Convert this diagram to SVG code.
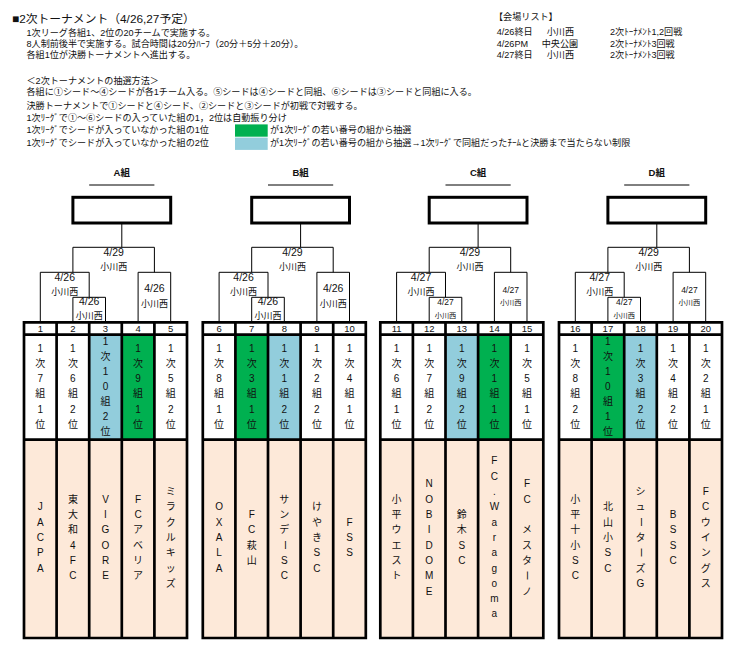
<svg xmlns="http://www.w3.org/2000/svg" width="737" height="650" viewBox="0 0 737 650">
<style>
.t{font-family:"Liberation Sans","Noto Sans CJK JP",sans-serif;fill:#111}
.h11{font-size:11.8px}
.b9{font-size:9.1px}
.c{text-anchor:middle}
.ttl{font-size:9.5px;font-weight:bold}
.dt{font-size:10.5px}
.vn{font-size:9px}
.dts{font-size:8.5px}
.vns{font-size:7.2px}
.num{font-size:9.5px}
.sd{font-size:10px}
.nm{font-size:10px}
.ln{stroke:#000;stroke-width:1;fill:none}
.ul{stroke:#000;stroke-width:1}
.box{fill:#fff;stroke:#000;stroke-width:3}
.grid{stroke:#000;stroke-width:2.7;fill:none}
.hd{fill:#fff}
.wh{fill:#fff}
.gr{fill:#00B050}
.bl{fill:#92CDDC}
.pk{fill:#FDE9D9}
</style>
<rect width="737" height="650" fill="#fff"/>

<g id="header-text">
<text class="t h11" x="12" y="22.5">■2次トーナメント（4/26,27予定）</text>
<text class="t b9" x="26.5" y="36">1次リーグ各組1、2位の20チームで実施する。</text>
<text class="t b9" x="26.5" y="46.7">8人制前後半で実施する。試合時間は20分ﾊｰﾌ（20分＋5分＋20分）。</text>
<text class="t b9" x="26.5" y="57.7">各組1位が決勝トーナメントへ進出する。</text>
<text class="t b9" x="26.5" y="84">＜2次トーナメントの抽選方法＞</text>
<text class="t b9" x="26.5" y="95">各組に①シード～④シードが各1チーム入る。⑤シードは④シードと同組、⑥シードは③シードと同組に入る。</text>
<text class="t b9" x="26.5" y="109">決勝トーナメントで①シードと④シード、②シードと③シードが初戦で対戦する。</text>
<text class="t b9" x="26.5" y="121.4">1次ﾘｰｸﾞで①～⑥シードの入っていた組の1，2位は自動振り分け</text>
<text class="t b9" x="26.5" y="133.4">1次ﾘｰｸﾞでシードが入っていなかった組の1位</text>
<text class="t b9" x="26.5" y="146">1次ﾘｰｸﾞでシードが入っていなかった組の2位</text>
<rect class="gr" x="235" y="124.4" width="32.7" height="12.3"/>
<rect class="bl" x="235" y="137.6" width="32.7" height="12.3"/>
<text class="t b9" x="270" y="133.4">が1次ﾘｰｸﾞの若い番号の組から抽選</text>
<text class="t b9" x="270" y="146">が1次ﾘｰｸﾞの若い番号の組から抽選→1次ﾘｰｸﾞで同組だったﾁｰﾑと決勝まで当たらない制限</text>
</g>

<g id="venue-list">
<text class="t b9" x="494" y="20">【会場リスト】</text>
<text class="t b9" x="496.7" y="35">4/26終日　<tspan x="546.7">小川西</tspan></text>
<text class="t b9" x="496.7" y="46.7">4/26PM　<tspan x="541.7">中央公園</tspan></text>
<text class="t b9" x="496.7" y="57.7">4/27終日　<tspan x="546.7">小川西</tspan></text>
<text class="t b9" x="610" y="35">2次ﾄｰﾅﾒﾝﾄ1,2回戦</text>
<text class="t b9" x="610" y="46.7">2次ﾄｰﾅﾒﾝﾄ3回戦</text>
<text class="t b9" x="610" y="57.7">2次ﾄｰﾅﾒﾝﾄ3回戦</text>
</g>

<g id="connectors">
<g transform="translate(24,0)">
<path class="ln" d="M97.8 223V247.3M48.9 247.3H130.4M48.9 247.3V272.3M130.4 247.3V272.3M16.3 272.3H65.2M16.3 272.3V322.3M65.2 272.3V297.3M48.9 297.3H81.5M48.9 297.3V322.3M81.5 297.3V322.3M114.1 272.3H146.7M114.1 272.3V322.3M146.7 272.3V322.3"/>
<text class="t dt c" x="89.65" y="255.5">4/29</text><text class="t vn c" x="89.65" y="270.1">小川西</text>
<text class="t dt c" x="40.75" y="281.1">4/26</text><text class="t vn c" x="40.75" y="295.1">小川西</text>
<text class="t dt c" x="65.2" y="304.8">4/26</text><text class="t vn c" x="65.2" y="319.4">小川西</text>
<text class="t dt c" x="130.4" y="292.1">4/26</text><text class="t vn c" x="130.4" y="306.7">小川西</text>
</g>
<g transform="translate(202.8,0)">
<path class="ln" d="M97.8 223V247.3M48.9 247.3H130.4M48.9 247.3V272.3M130.4 247.3V272.3M16.3 272.3H65.2M16.3 272.3V322.3M65.2 272.3V297.3M48.9 297.3H81.5M48.9 297.3V322.3M81.5 297.3V322.3M114.1 272.3H146.7M114.1 272.3V322.3M146.7 272.3V322.3"/>
<text class="t dt c" x="89.65" y="255.5">4/29</text><text class="t vn c" x="89.65" y="270.1">小川西</text>
<text class="t dt c" x="40.75" y="281.1">4/26</text><text class="t vn c" x="40.75" y="295.1">小川西</text>
<text class="t dt c" x="65.2" y="304.8">4/26</text><text class="t vn c" x="65.2" y="319.4">小川西</text>
<text class="t dt c" x="130.4" y="292.1">4/26</text><text class="t vn c" x="130.4" y="306.7">小川西</text>
</g>
<g transform="translate(380.3,0)">
<path class="ln" d="M97.8 223V247.3M48.9 247.3H130.4M48.9 247.3V272.3M130.4 247.3V272.3M16.3 272.3H65.2M16.3 272.3V322.3M65.2 272.3V297.3M48.9 297.3H81.5M48.9 297.3V322.3M81.5 297.3V322.3M114.1 272.3H146.7M114.1 272.3V322.3M146.7 272.3V322.3"/>
<text class="t dt c" x="89.65" y="255.5">4/29</text><text class="t vn c" x="89.65" y="270.1">小川西</text>
<text class="t dt c" x="40.75" y="281.1">4/27</text><text class="t vn c" x="40.75" y="295.1">小川西</text>
<text class="t dts c" x="65.2" y="305.4">4/27</text><text class="t vns c" x="65.2" y="317.7">小川西</text>
<text class="t dts c" x="130.4" y="293.1">4/27</text><text class="t vns c" x="130.4" y="305">小川西</text>
</g>
<g transform="translate(559,0)">
<path class="ln" d="M97.8 223V247.3M48.9 247.3H130.4M48.9 247.3V272.3M130.4 247.3V272.3M16.3 272.3H65.2M16.3 272.3V322.3M65.2 272.3V297.3M48.9 297.3H81.5M48.9 297.3V322.3M81.5 297.3V322.3M114.1 272.3H146.7M114.1 272.3V322.3M146.7 272.3V322.3"/>
<text class="t dt c" x="89.65" y="255.5">4/29</text><text class="t vn c" x="89.65" y="270.1">小川西</text>
<text class="t dt c" x="40.75" y="281.1">4/27</text><text class="t vn c" x="40.75" y="295.1">小川西</text>
<text class="t dts c" x="65.2" y="305.4">4/27</text><text class="t vns c" x="65.2" y="317.7">小川西</text>
<text class="t dts c" x="130.4" y="293.1">4/27</text><text class="t vns c" x="130.4" y="305">小川西</text>
</g>
</g>

<g id="group-A" transform="translate(24,0)">
<text class="t ttl c" x="97.8" y="176">A組</text>
<line class="ul" x1="65.2" y1="185" x2="130.4" y2="185"/>
<rect class="box" x="48.9" y="197.3" width="97.8" height="25.7"/>
<rect class="hd" x="0" y="322.3" width="163" height="12.4"/>
<rect class="wh" x="0" y="334.7" width="163" height="105"/>
<rect class="bl" x="65.2" y="334.7" width="32.6" height="105"/>
<rect class="gr" x="97.8" y="334.7" width="32.6" height="105"/>
<rect class="pk" x="0" y="439.7" width="163" height="198.3"/>
<path class="grid" d="M0 322.3H163V638H0ZM0 334.7H163M0 439.7H163M32.6 322.3V638M65.2 322.3V638M97.8 322.3V638M130.4 322.3V638"/>
<text class="t num c" x="16.3" y="332.2">1</text><text class="t num c" x="48.9" y="332.2">2</text><text class="t num c" x="81.5" y="332.2">3</text><text class="t num c" x="114.1" y="332.2">4</text><text class="t num c" x="146.7" y="332.2">5</text>
<text class="t sd c" x="16.3 16.3 16.3 16.3 16.3 16.3" y="351.7 366.9 382.1 397.3 412.5 427.7">1次7組1位</text>
<text class="t sd c" x="48.9 48.9 48.9 48.9 48.9 48.9" y="351.7 366.9 382.1 397.3 412.5 427.7">1次6組2位</text>
<text class="t sd c" x="81.5 81.5 81.5 81.5 81.5 81.5 81.5" y="344.7 359.7 374.7 389.7 404.7 419.7 434.7">1次10組2位</text>
<text class="t sd c" x="114.1 114.1 114.1 114.1 114.1 114.1" y="351.7 366.9 382.1 397.3 412.5 427.7">1次9組1位</text>
<text class="t sd c" x="146.7 146.7 146.7 146.7 146.7 146.7" y="351.7 366.9 382.1 397.3 412.5 427.7">1次5組2位</text>
<text class="t nm c" x="16.3 16.3 16.3 16.3 16.3" y="510.3 525.6 540.9 556.2 571.5">JACPA</text>
<text class="t nm c" x="48.9 48.9 48.9 48.9 48.9 48.9" y="502.7 518 533.3 548.6 563.9 579.2">東大和4FC</text>
<text class="t nm c" x="81.5 81.5 81.5 81.5 81.5 81.5" y="502.7 518 533.3 548.6 563.9 579.2">VIGORE</text>
<text class="t nm c" x="114.1 114.1 114.1 114.1 114.1 114.1" y="502.7 518 533.3 548.6 563.9 579.2">FCアベリア</text>
<text class="t nm c" x="146.7 146.7 146.7 146.7 146.7 146.7 146.7" y="495 510.3 525.6 540.9 556.2 571.5 586.8">ミラクルキッズ</text>
</g>

<g id="group-B" transform="translate(202.8,0)">
<text class="t ttl c" x="97.8" y="176">B組</text>
<line class="ul" x1="65.2" y1="185" x2="130.4" y2="185"/>
<rect class="box" x="48.9" y="197.3" width="97.8" height="25.7"/>
<rect class="hd" x="0" y="322.3" width="163" height="12.4"/>
<rect class="wh" x="0" y="334.7" width="163" height="105"/>
<rect class="gr" x="32.6" y="334.7" width="32.6" height="105"/>
<rect class="bl" x="65.2" y="334.7" width="32.6" height="105"/>
<rect class="pk" x="0" y="439.7" width="163" height="198.3"/>
<path class="grid" d="M0 322.3H163V638H0ZM0 334.7H163M0 439.7H163M32.6 322.3V638M65.2 322.3V638M97.8 322.3V638M130.4 322.3V638"/>
<text class="t num c" x="16.3" y="332.2">6</text><text class="t num c" x="48.9" y="332.2">7</text><text class="t num c" x="81.5" y="332.2">8</text><text class="t num c" x="114.1" y="332.2">9</text><text class="t num c" x="146.7" y="332.2">10</text>
<text class="t sd c" x="16.3 16.3 16.3 16.3 16.3 16.3" y="351.7 366.9 382.1 397.3 412.5 427.7">1次8組1位</text>
<text class="t sd c" x="48.9 48.9 48.9 48.9 48.9 48.9" y="351.7 366.9 382.1 397.3 412.5 427.7">1次3組1位</text>
<text class="t sd c" x="81.5 81.5 81.5 81.5 81.5 81.5" y="351.7 366.9 382.1 397.3 412.5 427.7">1次1組2位</text>
<text class="t sd c" x="114.1 114.1 114.1 114.1 114.1 114.1" y="351.7 366.9 382.1 397.3 412.5 427.7">1次2組2位</text>
<text class="t sd c" x="146.7 146.7 146.7 146.7 146.7 146.7" y="351.7 366.9 382.1 397.3 412.5 427.7">1次4組1位</text>
<text class="t nm c" x="16.3 16.3 16.3 16.3 16.3" y="510.3 525.6 540.9 556.2 571.5">OXALA</text>
<text class="t nm c" x="48.9 48.9 48.9 48.9" y="518 533.3 548.6 563.9">FC萩山</text>
<text class="t nm c" x="81.5 81.5 81.5 82.7 81.5 81.5" y="502.7 518 533.3 539.9 563.9 579.2" rotate="0 0 0 90 0 0">サンデーSC</text>
<text class="t nm c" x="114.1 114.1 114.1 114.1 114.1" y="510.3 525.6 540.9 556.2 571.5">けやきSC</text>
<text class="t nm c" x="146.7 146.7 146.7" y="525.6 540.9 556.2">FSS</text>
</g>

<g id="group-C" transform="translate(380.3,0)">
<text class="t ttl c" x="97.8" y="176">C組</text>
<line class="ul" x1="65.2" y1="185" x2="130.4" y2="185"/>
<rect class="box" x="48.9" y="197.3" width="97.8" height="25.7"/>
<rect class="hd" x="0" y="322.3" width="163" height="12.4"/>
<rect class="wh" x="0" y="334.7" width="163" height="105"/>
<rect class="bl" x="65.2" y="334.7" width="32.6" height="105"/>
<rect class="gr" x="97.8" y="334.7" width="32.6" height="105"/>
<rect class="pk" x="0" y="439.7" width="163" height="198.3"/>
<path class="grid" d="M0 322.3H163V638H0ZM0 334.7H163M0 439.7H163M32.6 322.3V638M65.2 322.3V638M97.8 322.3V638M130.4 322.3V638"/>
<text class="t num c" x="16.3" y="332.2">11</text><text class="t num c" x="48.9" y="332.2">12</text><text class="t num c" x="81.5" y="332.2">13</text><text class="t num c" x="114.1" y="332.2">14</text><text class="t num c" x="146.7" y="332.2">15</text>
<text class="t sd c" x="16.3 16.3 16.3 16.3 16.3 16.3" y="351.7 366.9 382.1 397.3 412.5 427.7">1次6組1位</text>
<text class="t sd c" x="48.9 48.9 48.9 48.9 48.9 48.9" y="351.7 366.9 382.1 397.3 412.5 427.7">1次7組2位</text>
<text class="t sd c" x="81.5 81.5 81.5 81.5 81.5 81.5" y="351.7 366.9 382.1 397.3 412.5 427.7">1次9組2位</text>
<text class="t sd c" x="114.1 114.1 114.1 114.1 114.1 114.1" y="351.7 366.9 382.1 397.3 412.5 427.7">1次1組1位</text>
<text class="t sd c" x="146.7 146.7 146.7 146.7 146.7 146.7" y="351.7 366.9 382.1 397.3 412.5 427.7">1次5組1位</text>
<text class="t nm c" x="16.3 16.3 16.3 16.3 16.3 16.3" y="502.7 518 533.3 548.6 563.9 579.2">小平ウエスト</text>
<text class="t nm c" x="48.9 48.9 48.9 48.9 48.9 48.9 48.9 48.9" y="487.4 502.7 518 533.3 548.6 563.9 579.2 594.5">NOBIDOME</text>
<text class="t nm c" x="81.5 81.5 81.5 81.5" y="518 533.3 548.6 563.9">鈴木SC</text>
<text class="t nm c" x="114.1 114.1 114.1 114.1 114.1 114.1 114.1 114.1 114.1 114.1 114.1" y="464.4 479.7 495 510.3 525.6 540.9 556.2 571.5 586.8 602.1 617.4">FC.Waragoma</text>
<text class="t nm c" x="146.7 146.7 146.7 146.7 146.7 146.7 147.9 146.7" y="487.4 502.7 518 533.3 548.6 563.9 570.5 594.5" rotate="0 0 0 0 0 0 90 0">FC　メスターノ</text>
</g>

<g id="group-D" transform="translate(559,0)">
<text class="t ttl c" x="97.8" y="176">D組</text>
<line class="ul" x1="65.2" y1="185" x2="130.4" y2="185"/>
<rect class="box" x="48.9" y="197.3" width="97.8" height="25.7"/>
<rect class="hd" x="0" y="322.3" width="163" height="12.4"/>
<rect class="wh" x="0" y="334.7" width="163" height="105"/>
<rect class="gr" x="32.6" y="334.7" width="32.6" height="105"/>
<rect class="bl" x="65.2" y="334.7" width="32.6" height="105"/>
<rect class="pk" x="0" y="439.7" width="163" height="198.3"/>
<path class="grid" d="M0 322.3H163V638H0ZM0 334.7H163M0 439.7H163M32.6 322.3V638M65.2 322.3V638M97.8 322.3V638M130.4 322.3V638"/>
<text class="t num c" x="16.3" y="332.2">16</text><text class="t num c" x="48.9" y="332.2">17</text><text class="t num c" x="81.5" y="332.2">18</text><text class="t num c" x="114.1" y="332.2">19</text><text class="t num c" x="146.7" y="332.2">20</text>
<text class="t sd c" x="16.3 16.3 16.3 16.3 16.3 16.3" y="351.7 366.9 382.1 397.3 412.5 427.7">1次8組2位</text>
<text class="t sd c" x="48.9 48.9 48.9 48.9 48.9 48.9 48.9" y="344.7 359.7 374.7 389.7 404.7 419.7 434.7">1次10組1位</text>
<text class="t sd c" x="81.5 81.5 81.5 81.5 81.5 81.5" y="351.7 366.9 382.1 397.3 412.5 427.7">1次3組2位</text>
<text class="t sd c" x="114.1 114.1 114.1 114.1 114.1 114.1" y="351.7 366.9 382.1 397.3 412.5 427.7">1次4組2位</text>
<text class="t sd c" x="146.7 146.7 146.7 146.7 146.7 146.7" y="351.7 366.9 382.1 397.3 412.5 427.7">1次2組1位</text>
<text class="t nm c" x="16.3 16.3 16.3 16.3 16.3 16.3" y="502.7 518 533.3 548.6 563.9 579.2">小平十小SC</text>
<text class="t nm c" x="48.9 48.9 48.9 48.9 48.9" y="510.3 525.6 540.9 556.2 571.5">北山小SC</text>
<text class="t nm c" x="81.5 81.5 82.7 81.5 82.7 81.5 81.5" y="495 510.3 516.9 540.9 547.5 571.5 586.8" rotate="0 0 90 0 90 0 0">シューターズG</text>
<text class="t nm c" x="114.1 114.1 114.1 114.1" y="518 533.3 548.6 563.9">BSSC</text>
<text class="t nm c" x="146.7 146.7 146.7 146.7 146.7 146.7 146.7" y="495 510.3 525.6 540.9 556.2 571.5 586.8">FCウイングス</text>
</g>
</svg>
